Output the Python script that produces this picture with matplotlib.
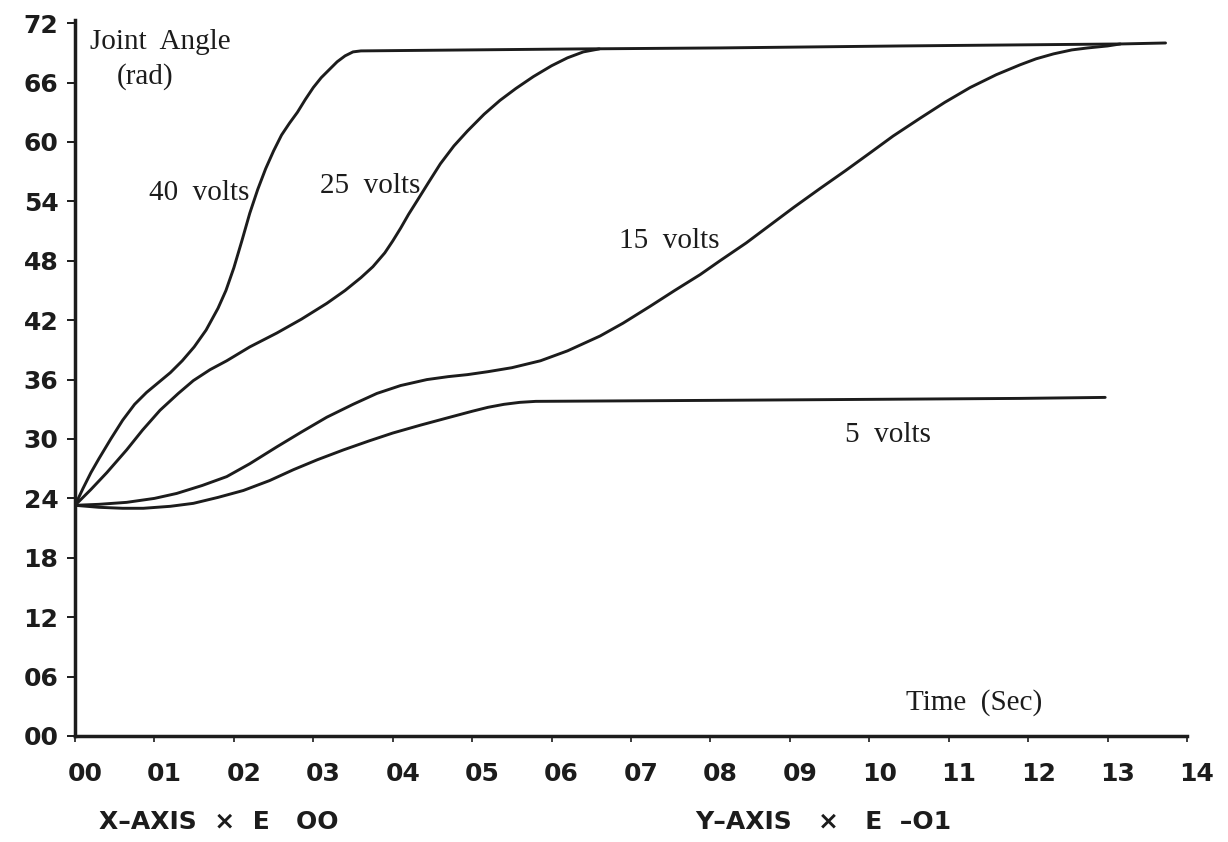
import matplotlib
matplotlib.use("Agg")
import matplotlib.pyplot as plt
from matplotlib.transforms import ScaledTranslation

# joint angle response (x: time, y: angle in E-01 rad)
x_40v = [0, 0.1, 0.2, 0.3, 0.45, 0.6, 0.75, 0.9, 1.05, 1.2, 1.35, 1.5, 1.65, 1.8, 1.9, 2.0,
         2.1, 2.2, 2.3, 2.4, 2.5, 2.6, 2.7, 2.8, 2.9, 3.0, 3.1, 3.2, 3.3, 3.4, 3.5, 3.6,
         6.36, 8.12, 10.4, 13.16, 13.73]
y_40v = [23.3, 25.0, 26.6, 28.0, 30.0, 31.9, 33.5, 34.7, 35.7, 36.7, 37.9, 39.3, 41.0, 43.2, 45.0, 47.3,
         50.0, 52.8, 55.2, 57.3, 59.1, 60.7, 61.9, 63.0, 64.3, 65.5, 66.5, 67.3, 68.1, 68.7, 69.1, 69.2,
         69.4, 69.5, 69.7, 69.9, 70.0]

x_25v = [0, 0.2, 0.4, 0.65, 0.85, 1.07, 1.3, 1.49, 1.7, 1.91, 2.2, 2.54, 2.85, 3.17, 3.4, 3.6,
         3.75, 3.9, 4.0, 4.1, 4.2, 4.31, 4.45, 4.6, 4.77, 4.94, 5.15, 5.35, 5.55, 5.77, 6.0,
         6.2, 6.4, 6.6]
y_25v = [23.3, 24.9, 26.6, 28.9, 30.9, 32.9, 34.6, 35.9, 37.0, 37.9, 39.3, 40.7, 42.1, 43.7, 45.0, 46.3,
         47.4, 48.8, 50.0, 51.3, 52.7, 54.1, 55.9, 57.8, 59.6, 61.1, 62.8, 64.2, 65.4, 66.6, 67.7,
         68.5, 69.1, 69.4]

x_15v = [0, 0.3, 0.65, 1.0, 1.28, 1.6, 1.91, 2.2, 2.54, 2.85, 3.17, 3.5, 3.8, 4.1, 4.43, 4.7,
         4.94, 5.2, 5.5, 5.86, 6.2, 6.61, 6.9, 7.24, 7.55, 7.87, 8.12, 8.45, 8.75, 9.05, 9.38,
         9.7, 10.01, 10.3, 10.64, 10.95, 11.27, 11.6, 11.9, 12.1, 12.32, 12.55, 12.75, 13.0, 13.16]
y_15v = [23.3, 23.4, 23.6, 24.0, 24.5, 25.3, 26.2, 27.5, 29.2, 30.7, 32.2, 33.5, 34.6, 35.4, 36.0, 36.3,
         36.5, 36.8, 37.2, 37.9, 38.9, 40.4, 41.7, 43.4, 45.0, 46.6, 48.0, 49.8, 51.6, 53.4, 55.3,
         57.1, 58.9, 60.6, 62.4, 64.0, 65.5, 66.8, 67.8, 68.4, 68.9, 69.3, 69.5, 69.7, 69.9]

x_5v = [0, 0.3, 0.6, 0.86, 1.2, 1.49, 1.8, 2.12, 2.45, 2.75, 3.05, 3.38, 3.7, 4.0, 4.35, 4.72,
        5.0, 5.2, 5.4, 5.6, 5.8, 8.0, 11.9, 12.97]
y_5v = [23.3, 23.1, 23.0, 23.0, 23.2, 23.5, 24.1, 24.8, 25.8, 26.9, 27.9, 28.9, 29.8, 30.6, 31.4, 32.2,
        32.8, 33.2, 33.5, 33.7, 33.8, 33.9, 34.1, 34.2]

x_ticks = list(range(0, 15))
x_ticklabels = ["%02d" % v for v in x_ticks]
y_ticks = list(range(0, 73, 6))
y_ticklabels = ["%02d" % v for v in y_ticks]

ink = "#1c1c1c"
hand = dict(family="DejaVu Sans", fontweight="bold", fontsize=18, color=ink)
serif = dict(family="Liberation Serif", fontsize=21, color=ink)

fig = plt.figure(figsize=(12.28, 8.42), dpi=100)
fig.patch.set_facecolor("white")
ax = fig.add_axes([0.0611, 0.1259, 0.9055, 0.8501])

for xs, ys in [(x_40v, y_40v), (x_25v, y_25v), (x_15v, y_15v), (x_5v, y_5v)]:
    ax.plot(xs, ys, color=ink, lw=2.1, solid_capstyle="round", solid_joinstyle="round")

ax.set_xlim(0, 14)
ax.set_ylim(0, 72.3)
for side in ["top", "right"]:
    ax.spines[side].set_visible(False)
for side in ["left", "bottom"]:
    ax.spines[side].set_linewidth(2.5)
    ax.spines[side].set_color(ink)

ax.set_xticks(x_ticks)
ax.set_xticklabels(x_ticklabels, **hand)
ax.set_yticks(y_ticks)
ax.set_yticklabels(y_ticklabels, **hand)
ax.tick_params(axis="x", direction="out", length=4, width=1.2, pad=15, colors=ink)
ax.tick_params(axis="y", direction="out", length=6, width=1.4, pad=6, colors=ink)

# hand-lettered x labels sit a little right of their ticks
shift = ScaledTranslation(10 / 100, 0, fig.dpi_scale_trans)
for lbl in ax.get_xticklabels():
    lbl.set_transform(lbl.get_transform() + shift)

# curve labels
ax.text(1.56, 54.8, "40  volts", ha="center", va="center", **serif)
ax.text(3.72, 55.6, "25  volts", ha="center", va="center", **serif)
ax.text(7.48, 50.0, "15  volts", ha="center", va="center", **serif)
ax.text(10.23, 30.4, "5  volts", ha="center", va="center", **serif)

ax.text(0.19, 70.1, "Joint  Angle", ha="left", va="center", **serif)
ax.text(0.88, 66.6, "(rad)", ha="center", va="center", **serif)
ax.text(11.32, 3.43, "Time  (Sec)", ha="center", va="center", **serif)

fig.text(0.081, 0.024, "X\u2013AXIS  \u00d7  E   OO", ha="left", va="center", **hand)
fig.text(0.566, 0.024, "Y\u2013AXIS   \u00d7   E  \u2013O1", ha="left", va="center", **hand)

fig.savefig("out.png", dpi=100, facecolor="white")
